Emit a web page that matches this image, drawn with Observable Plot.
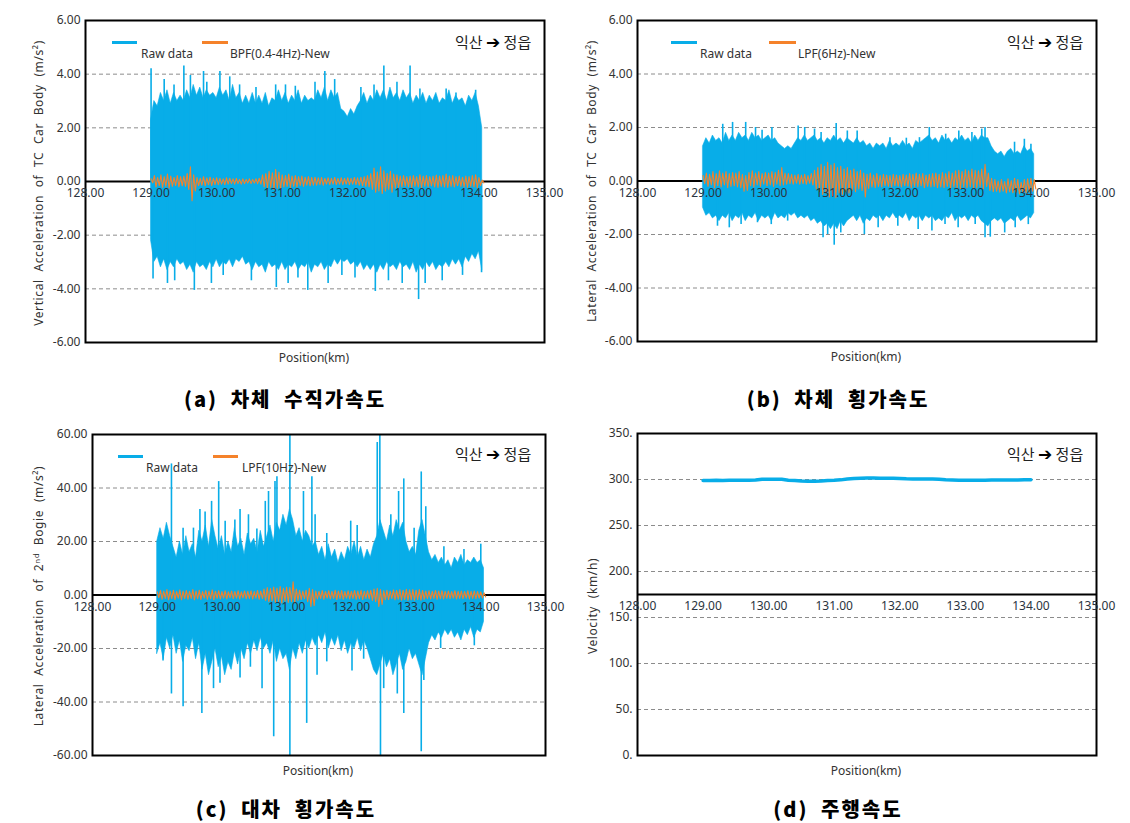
<!DOCTYPE html>
<html><head><meta charset="utf-8">
<script src="https://cdn.jsdelivr.net/npm/d3@7"></script>
<script src="https://cdn.jsdelivr.net/npm/@observablehq/plot@0.6"></script>
<style>
body{margin:0;background:#fff;}
#root{position:relative;width:1130px;height:823px;background:#fff;overflow:hidden;font-family:'Noto Sans','Noto Sans CJK KR',sans-serif;color:#333;}
.ytitle{position:absolute;white-space:nowrap;font-size:12px;transform:translate(-50%,-50%) rotate(-90deg);letter-spacing:0.6px;word-spacing:4px;color:#333}
.cap{position:absolute;white-space:nowrap;font-family:'Noto Sans CJK KR',sans-serif;font-weight:900;font-size:20px;transform:translate(-50%,-50%);color:#000;letter-spacing:2px;word-spacing:6px}
.dir{position:absolute;white-space:nowrap;font-family:'Noto Sans CJK KR',sans-serif;font-size:15px;transform:translateY(-50%);color:#222}
.dir b{font-family:'DejaVu Sans',sans-serif;font-size:17px;color:#000}
.leg{position:absolute;white-space:nowrap;font-size:12px;transform:translateY(-50%);color:#333}
.sw{position:absolute;height:3px;}
.xl{position:absolute;white-space:nowrap;font-size:12px;transform:translate(-50%,-50%);color:#333}
</style></head><body><div id="root"></div>
<script>
// ---------- shared axis data ----------
const xTicks = [128, 129, 130, 131, 132, 133, 134, 135];
const kmStart = 129.0, kmStep = 0.05; // sampling grid of the envelope arrays

// ---------- (a) vertical acceleration of car body ----------
const rawHiA = [2.3,3.0,2.8,3.3,3.0,3.4,2.9,3.3,3.0,3.2, 3.0,3.4,3.1,3.6,3.2,3.5,3.1,3.4,3.2,3.3,
  3.1,3.5,3.2,3.4,3.0,3.6,3.1,3.3,2.9,3.2, 2.9,3.3,2.9,3.2,2.9,3.3,2.8,3.1,3.0,3.4,
  3.0,3.3,2.9,3.2,3.0,3.4,2.9,3.2,3.0,3.1, 3.0,3.4,3.1,3.5,3.0,3.4,3.1,3.3,2.7,2.6,
  2.4,2.7,2.5,2.8,3.0,3.3,2.9,3.2,3.0,3.4, 3.1,3.4,3.0,3.5,3.1,3.3,3.0,3.4,3.1,3.3,
  2.9,3.2,3.0,3.3,2.9,3.2,3.0,3.3,2.9,3.1, 3.0,3.4,2.9,3.2,3.0,3.1,2.8,3.2,3.0,3.3, 2.8,2.0];
const rawLoA = [-2.2,-3.0,-2.8,-3.2,-2.9,-3.3,-3.0,-3.2,-2.9,-3.1, -3.0,-3.3,-3.1,-3.4,-3.0,-3.2,-3.1,-3.3,-3.0,-3.2,
  -2.9,-3.2,-3.0,-3.1,-2.9,-3.2,-2.9,-3.0,-2.8,-3.1, -3.0,-3.3,-3.0,-3.2,-3.1,-3.4,-3.0,-3.2,-3.1,-3.3,
  -3.0,-3.3,-3.1,-3.2,-3.0,-3.3,-3.1,-3.2,-3.0,-3.4, -3.1,-3.2,-3.0,-3.3,-3.1,-3.2,-2.9,-3.1,-2.9,-3.0,
  -2.9,-3.1,-3.0,-3.2,-3.0,-3.3,-3.1,-3.3,-3.1,-3.4, -3.1,-3.3,-3.0,-3.2,-3.1,-3.3,-3.0,-3.2,-3.1,-3.3,
  -3.0,-3.4,-3.1,-3.3,-3.0,-3.2,-3.0,-3.3,-3.1,-3.2, -3.0,-3.2,-2.9,-3.1,-2.9,-3.2,-2.8,-3.0,-2.7,-2.9, -2.6,-3.3];
const spikeKmA = [129.00,129.20,129.35,129.50,129.60,129.80,129.85,130.05,130.20,130.35,130.60,130.90,131.05,131.20,131.50,131.65,131.80,132.20,132.40,132.55,132.75,132.95,133.10,133.50,133.65,133.95,
  129.03,129.25,129.36,129.66,129.92,130.10,130.53,130.91,131.09,131.24,131.39,131.70,131.91,132.11,132.42,132.62,132.83,133.08,133.18,133.44,133.75,134.04];
const spikeValA = [4.2,3.8,3.6,4.3,3.95,4.1,3.7,4.1,3.9,3.6,3.5,3.6,3.6,3.55,3.7,4.1,3.8,3.5,3.6,4.3,3.7,4.3,3.45,3.45,3.3,3.4,
  -3.63,-3.8,-3.7,-4.06,-3.8,-3.5,-3.7,-3.95,-3.8,-3.6,-4.06,-3.8,-3.5,-3.6,-4.1,-3.7,-3.8,-4.4,-3.8,-3.7,-3.5,-3.4];
const bpfHiA = [0.10,0.22,0.15,0.25,0.18,0.28,0.20,0.15,0.22,0.18, 0.20,0.30,0.55,0.25,0.15,0.12,0.18,0.14,0.16,0.12,
  0.14,0.12,0.10,0.14,0.12,0.10,0.12,0.08,0.10,0.08, 0.10,0.08,0.10,0.12,0.25,0.30,0.38,0.32,0.45,0.35,
  0.25,0.22,0.28,0.20,0.22,0.18,0.20,0.16,0.18,0.15, 0.16,0.14,0.15,0.12,0.14,0.12,0.15,0.12,0.14,0.12,
  0.14,0.12,0.15,0.14,0.16,0.18,0.22,0.30,0.50,0.35, 0.55,0.40,0.30,0.38,0.28,0.25,0.20,0.22,0.18,0.20,
  0.22,0.18,0.25,0.20,0.22,0.18,0.20,0.24,0.20,0.22, 0.28,0.20,0.22,0.18,0.20,0.16,0.20,0.18,0.22,0.25, 0.15,0.05];
const bpfLoA = [-0.05,-0.20,-0.15,-0.22,-0.18,-0.25,-0.18,-0.15,-0.20,-0.16, -0.18,-0.30,-0.72,-0.35,-0.15,-0.14,-0.16,-0.12,-0.15,-0.12,
  -0.12,-0.10,-0.12,-0.10,-0.08,-0.10,-0.08,-0.10,-0.08,-0.06, -0.08,-0.06,-0.08,-0.10,-0.20,-0.25,-0.22,-0.30,-0.25,-0.28,
  -0.20,-0.18,-0.22,-0.18,-0.20,-0.15,-0.18,-0.14,-0.16,-0.14, -0.14,-0.12,-0.14,-0.10,-0.12,-0.10,-0.12,-0.10,-0.12,-0.10,
  -0.12,-0.10,-0.12,-0.14,-0.16,-0.18,-0.20,-0.30,-0.40,-0.35, -0.45,-0.35,-0.30,-0.40,-0.25,-0.22,-0.20,-0.18,-0.20,-0.22,
  -0.18,-0.20,-0.22,-0.18,-0.20,-0.16,-0.20,-0.22,-0.18,-0.20, -0.22,-0.18,-0.20,-0.16,-0.18,-0.20,-0.22,-0.18,-0.20,-0.24, -0.15,-0.05];

// ---------- (b) lateral acceleration of car body ----------
const rawHiB = [1.3,1.6,1.4,1.7,1.5,1.6,1.4,1.8,1.5,1.7, 1.5,1.8,1.6,1.7,1.5,1.8,1.6,1.7,1.5,1.6,
  1.7,1.5,1.6,1.4,1.3,1.2,1.3,1.2,1.4,1.6, 1.5,1.7,1.5,1.6,1.7,1.5,1.6,1.4,1.6,1.5,
  1.7,1.5,1.6,1.4,1.6,1.5,1.4,1.6,1.4,1.5, 1.3,1.4,1.2,1.4,1.3,1.4,1.2,1.5,1.3,1.4,
  1.3,1.5,1.3,1.4,1.2,1.5,1.4,1.5,1.6,1.7, 1.5,1.6,1.4,1.7,1.5,1.6,1.4,1.6,1.5,1.7,
  1.5,1.6,1.4,1.7,1.5,1.7,1.6,1.6,1.3,1.1, 1.0,1.1,0.9,1.1,1.2,1.0,1.1,1.0,1.3,1.1, 1.2,1.0];
const rawLoB = [-1.0,-1.3,-1.2,-1.4,-1.3,-1.5,-1.3,-1.4,-1.2,-1.5, -1.3,-1.4,-1.2,-1.5,-1.3,-1.4,-1.2,-1.5,-1.3,-1.4,
  -1.3,-1.5,-1.2,-1.4,-1.3,-1.4,-1.2,-1.3,-1.2,-1.4, -1.3,-1.4,-1.3,-1.5,-1.4,-1.6,-1.5,-1.7,-1.6,-1.8,
  -1.6,-1.8,-1.5,-1.7,-1.5,-1.4,-1.3,-1.5,-1.3,-1.6, -1.4,-1.5,-1.3,-1.4,-1.3,-1.5,-1.3,-1.4,-1.2,-1.4,
  -1.3,-1.4,-1.2,-1.5,-1.3,-1.4,-1.3,-1.5,-1.3,-1.4, -1.3,-1.5,-1.4,-1.5,-1.3,-1.4,-1.2,-1.5,-1.3,-1.4,
  -1.3,-1.5,-1.3,-1.4,-1.3,-1.5,-1.6,-1.7,-1.5,-1.4, -1.5,-1.4,-1.6,-1.5,-1.4,-1.5,-1.3,-1.5,-1.4,-1.3, -1.4,-1.2];
const spikeKmB = [129.30,129.45,129.65,129.80,129.90,130.05,130.45,130.55,130.70,130.80,131.03,131.20,131.35,131.85,132.10,132.30,132.45,132.70,132.90,133.10,133.25,133.30,133.75,133.90,134.00,
  129.22,129.40,129.58,129.83,130.04,130.29,130.83,130.90,131.00,131.10,131.46,131.67,131.97,132.28,132.49,132.69,132.89,133.15,133.30,133.38,133.60,133.76,133.96];
const spikeValB = [2.12,2.19,2.19,2.0,1.9,2.0,2.06,2.0,1.94,1.81,2.15,1.87,1.87,1.62,1.6,1.62,2.0,1.75,1.87,1.81,1.94,2.0,1.45,1.56,1.37,
  -1.69,-1.75,-1.63,-1.56,-1.63,-1.5,-2.12,-2.0,-2.4,-1.94,-2.0,-1.75,-1.69,-1.81,-1.87,-1.63,-1.75,-1.63,-2.12,-2.1,-1.94,-1.75,-1.63];
const lpfHiB = [0.20,0.30,0.25,0.35,0.28,0.38,0.30,0.35,0.28,0.32, 0.30,0.35,0.25,0.20,0.32,0.38,0.30,0.35,0.28,0.32,
  0.30,0.35,0.32,0.40,0.50,0.30,0.28,0.25,0.22,0.25, 0.22,0.25,0.20,0.28,0.40,0.50,0.62,0.55,0.70,0.60,
  0.65,0.50,0.55,0.45,0.50,0.40,0.45,0.35,0.40,0.30, 0.25,0.30,0.22,0.28,0.20,0.25,0.22,0.20,0.25,0.22,
  0.20,0.25,0.22,0.28,0.25,0.30,0.25,0.28,0.22,0.25, 0.28,0.30,0.25,0.32,0.28,0.35,0.30,0.38,0.40,0.35,
  0.42,0.38,0.45,0.40,0.38,0.45,0.62,0.30,0.10,0.05, 0.00,0.05,-0.02,0.08,0.02,0.10,0.05,-0.05,0.05,0.08, 0.10,0.05];
const lpfLoB = [-0.10,-0.20,-0.15,-0.25,-0.18,-0.22,-0.15,-0.25,-0.20,-0.18, -0.22,-0.25,-0.38,-0.35,-0.18,-0.22,-0.15,-0.20,-0.12,-0.18,
  -0.15,-0.20,-0.12,-0.18,-0.15,-0.12,-0.10,-0.12,-0.08,-0.12, -0.10,-0.12,-0.08,-0.15,-0.30,-0.40,-0.50,-0.45,-0.60,-0.55,
  -0.62,-0.45,-0.50,-0.40,-0.45,-0.35,-0.40,-0.30,-0.35,-0.60, -0.28,-0.22,-0.25,-0.20,-0.22,-0.18,-0.20,-0.22,-0.18,-0.20,
  -0.22,-0.18,-0.20,-0.25,-0.20,-0.22,-0.18,-0.25,-0.20,-0.22, -0.20,-0.25,-0.22,-0.25,-0.20,-0.28,-0.22,-0.25,-0.28,-0.22,
  -0.25,-0.22,-0.28,-0.25,-0.22,-0.30,-0.20,-0.35,-0.40,-0.38, -0.42,-0.38,-0.45,-0.40,-0.44,-0.42,-0.48,-0.40,-0.45,-0.42, -0.38,-0.30];

// ---------- (c) lateral acceleration of 2nd bogie ----------
const rawHiC = [20,25,21,27,22,18,14,20,15,22, 16,19,14,24,20,26,18,28,22,17,
  22,15,20,16,25,18,21,15,23,19, 21,16,24,18,22,26,20,27,24,30,
  26,32,28,22,25,20,24,22,18,20, 15,18,13,19,14,17,12,16,13,18,
  15,20,14,18,13,17,14,19,22,28, 24,20,26,22,28,24,27,20,16,18,
  15,24,28,22,16,13,15,12,14,11, 13,10,14,12,15,11,13,12,14,12, 13,10];
const rawLoC = [-22,-18,-24,-16,-20,-15,-22,-17,-25,-19, -21,-16,-24,-18,-28,-22,-30,-25,-20,-27,
  -23,-30,-25,-28,-21,-26,-20,-24,-18,-22, -17,-21,-16,-20,-18,-22,-17,-25,-20,-24,
  -22,-28,-20,-24,-18,-22,-17,-20,-16,-19, -15,-18,-14,-20,-16,-19,-15,-21,-17,-22,
  -18,-20,-16,-21,-17,-20,-24,-28,-30,-26, -22,-27,-24,-30,-26,-22,-28,-25,-20,-24,
  -22,-26,-30,-24,-18,-15,-17,-14,-16,-13, -15,-13,-16,-14,-17,-13,-15,-12,-16,-13, -14,-10];
const spikeKmC = [129.22,129.40,129.56,129.66,129.74,129.84,129.95,130.05,130.20,130.28,130.41,130.54,130.67,130.72,130.82,130.85,131.05,131.26,131.39,131.44,131.62,131.99,132.09,132.40,132.44,132.61,132.73,132.81,132.97,133.08,133.15,133.43,133.74,134.00,
  129.09,129.22,129.40,129.69,129.87,129.97,130.28,130.44,130.62,130.80,131.05,131.31,131.47,131.62,132.01,132.19,132.45,132.50,132.71,132.81,133.08,133.12,133.38,133.90];
const spikeValC = [49,25,25,32,31,35,42.4,27.6,28,32,30,24.7,35,38.7,42.4,44.2,60,38.7,44.2,30,23,27.6,26,57,60,30,38.7,43.4,25,46,33,18,17,19,
  -24.7,-37,-41.8,-44.3,-35,-33,-31,-27,-35,-53,-60,-48,-30,-25,-28.4,-24,-60,-35,-37,-44.3,-58.6,-32,-20,-19];
const lpfHiC = [1.2,1.8,1.4,2.0,1.5,1.8,1.3,1.9,1.5,1.7, 1.4,2.0,1.5,1.8,1.3,1.7,1.5,1.9,1.4,1.6,
  1.3,1.6,1.2,1.5,1.3,1.6,1.2,1.5,1.4,1.6, 1.3,1.7,1.5,2.2,2.8,2.4,3.0,2.6,3.2,2.5,
  3.0,2.8,4.9,2.2,1.8,1.5,1.8,2.5,2.0,1.5, 1.4,1.7,1.3,1.6,1.4,1.8,1.5,1.7,1.3,1.6,
  1.4,1.7,1.5,1.8,1.4,1.6,1.8,2.2,2.5,2.0, 1.6,1.8,1.5,1.9,1.7,2.0,1.8,2.1,1.9,2.0,
  1.8,2.0,1.7,1.5,1.6,1.4,1.7,1.5,1.6,1.4, 1.5,1.3,1.6,1.4,1.5,1.3,1.6,1.4,1.5,1.3, 1.2,0.8];
const lpfLoC = [-1.0,-1.6,-1.3,-1.8,-1.4,-1.7,-1.2,-1.8,-1.4,-1.6, -1.3,-1.8,-1.4,-1.7,-1.2,-1.6,-1.4,-1.8,-1.3,-1.5,
  -1.2,-1.5,-1.1,-1.4,-1.2,-1.5,-1.1,-1.4,-1.3,-1.5, -1.2,-1.6,-1.4,-2.0,-2.5,-2.2,-2.8,-2.4,-3.0,-2.3,
  -2.8,-2.5,-3.0,-2.0,-1.7,-1.4,-2.5,-4.3,-4.0,-1.5, -1.3,-1.6,-1.2,-1.5,-1.3,-1.7,-1.4,-1.6,-1.2,-1.5,
  -1.3,-1.6,-1.4,-1.7,-1.3,-1.5,-2.0,-2.5,-4.3,-3.5, -1.8,-1.7,-1.4,-1.8,-1.6,-1.9,-1.7,-2.0,-1.8,-1.9,
  -1.7,-1.9,-1.6,-1.4,-1.5,-1.3,-1.6,-1.4,-1.5,-1.3, -1.4,-1.2,-1.5,-1.3,-1.4,-1.2,-1.5,-1.3,-1.4,-1.2, -1.1,-0.7];

// ---------- (d) running speed, every 0.1 km from 129.0 to 134.0 ----------
const velStep = 0.1;
const velocity = [299.0,299.0,299.1,299.0,299.1,299.2,299.2,299.3,299.4,
  300.2,300.4,300.3,300.2, 299.3,299.0, 298.3,298.0,298.1,298.4, 299.0,299.2,299.6,
  300.6,301.2,301.4,301.5,301.5,301.4,301.4,301.3,301.0,
  300.7,300.6,300.6,300.5,300.5,300.2,
  299.6,299.4,299.3,299.3,299.3,299.3,299.3,299.4,299.4,299.4,299.5,299.5,299.6,299.8];

// ---------- ticks ----------
const yTicksAB = [-6, -4, -2, 0, 2, 4, 6];
const yGridAB = [-4, -2, 2, 4];
const yTicksC = [-60, -40, -20, 0, 20, 40, 60];
const yGridC = [-40, -20, 20, 40];
const yTicksD = [0, 50, 100, 150, 200, 250, 300, 350];
const yGridD = [50, 100, 150, 200, 250, 300];

const BLUE = "#08ade8", ORANGE = "#f5822a";

function env(hi, lo) { return hi.map((h, i) => ({km: kmStart + i * kmStep, hi: h, lo: lo[i]})); }
function zig(hi, lo) {
  const out = [];
  hi.forEach((h, i) => { out.push({km: kmStart + i * kmStep, v: h}); out.push({km: kmStart + (i + 0.5) * kmStep, v: lo[i]}); });
  return out;
}
function spikes(kms, vals) { return kms.map((k, i) => ({km: k, v: vals[i]})); }

function rawMarks(hi, lo, sk, sv, fh, fl) {
  return [
    Plot.areaY(env(hi, lo), {x: "km", y1: "lo", y2: "hi", fill: BLUE, stroke: BLUE, strokeWidth: 0.6, curve: "linear"}),
    Plot.ruleX(spikes(sk, sv), {x: "km", y1: 0, y2: "v", stroke: BLUE, strokeWidth: 1.6}),
    Plot.line(zig(fh, fl), {x: "km", y: "v", stroke: ORANGE, strokeWidth: 1.1, curve: "linear"})
  ];
}

function panel(cfg) {
  const svg = Plot.plot({
    width: cfg.w, height: cfg.h,
    marginLeft: cfg.ml, marginRight: cfg.mr, marginTop: cfg.mt, marginBottom: cfg.mb,
    x: {domain: [128, 135], axis: null},
    y: {domain: cfg.yDomain},
    style: {fontFamily: "'Noto Sans', 'Noto Sans CJK KR', sans-serif", fontSize: "12px", color: "#333", background: "transparent", overflow: "visible"},
    marks: [
      Plot.ruleY(cfg.grid, {stroke: "#8c8c8c", strokeDasharray: "4,3", strokeWidth: 1}),
      Plot.ruleY([cfg.axisAt], {stroke: "#000", strokeWidth: 2}),
      ...cfg.data,
      Plot.frame({stroke: "#000", strokeWidth: 2}),
      Plot.axisY(cfg.yTicks, {tickSize: 0, tickPadding: 5, tickFormat: cfg.yFmt, label: null, fill: "#333"}),
      Plot.text(xTicks, {x: d => d, y: cfg.axisAt, dy: 12, text: d => d.toFixed(2), fill: "#2a3440", fontSize: 12})
    ]
  });
  svg.style.position = "absolute";
  svg.style.left = cfg.left + "px";
  svg.style.top = cfg.top + "px";
  return svg;
}

const root = document.getElementById("root");
const f2 = d => d.toFixed(2);

root.appendChild(panel({left: 0, top: 0, w: 560, h: 375, ml: 85, mr: 16, mt: 20, mb: 33,
  yDomain: [-6, 6], yTicks: yTicksAB, yFmt: f2, grid: yGridAB, axisAt: 0,
  data: rawMarks(rawHiA, rawLoA, spikeKmA, spikeValA, bpfHiA, bpfLoA)}));
root.appendChild(panel({left: 560, top: 0, w: 570, h: 375, ml: 77, mr: 34, mt: 20, mb: 34,
  yDomain: [-6, 6], yTicks: yTicksAB, yFmt: f2, grid: yGridAB, axisAt: 0,
  data: rawMarks(rawHiB, rawLoB, spikeKmB, spikeValB, lpfHiB, lpfLoB)}));
root.appendChild(panel({left: 0, top: 410, w: 560, h: 375, ml: 92, mr: 15, mt: 24, mb: 30,
  yDomain: [-60, 60], yTicks: yTicksC, yFmt: f2, grid: yGridC, axisAt: 0,
  data: rawMarks(rawHiC, rawLoC, spikeKmC, spikeValC, lpfHiC, lpfLoC)}));
root.appendChild(panel({left: 560, top: 410, w: 570, h: 375, ml: 77, mr: 34, mt: 23, mb: 30,
  yDomain: [0, 350], yTicks: yTicksD, yFmt: d => d + ".", grid: yGridD, axisAt: 175,
  data: [Plot.line(velocity.map((v, i) => ({km: kmStart + i * velStep, v})), {x: "km", y: "v", stroke: BLUE, strokeWidth: 3.5})]}));

// ---------- texts ----------
function add(cls, html, x, y, extra) {
  const d = document.createElement("div");
  d.className = cls; d.innerHTML = html;
  d.style.left = x + "px"; d.style.top = y + "px";
  if (extra) Object.assign(d.style, extra);
  root.appendChild(d);
  return d;
}
function swatch(x1, x2, y, color) {
  const d = document.createElement("div");
  d.className = "sw";
  Object.assign(d.style, {left: x1 + "px", top: (y - 1.5) + "px", width: (x2 - x1) + "px", background: color});
  root.appendChild(d);
}
const dirText = "익산 <b>➔</b> 정읍";

// (a)
add("ytitle", "Vertical Acceleration of TC Car Body (m/s²)", 38, 183);
swatch(112, 137, 42, BLUE); add("leg", "Raw data", 141, 53);
swatch(202, 228, 42, ORANGE); add("leg", "BPF(0.4-4Hz)-New", 230, 53);
add("dir", dirText, 455, 41);
add("xl", "Position(km)", 314, 357);
add("cap", "(a) 차체 수직가속도", 285, 398);
// (b)
add("ytitle", "Lateral Acceleration of TC Car Body (m/s²)", 591, 181);
swatch(671, 697, 42, BLUE); add("leg", "Raw data", 700, 53);
swatch(769, 796, 42, ORANGE); add("leg", "LPF(6Hz)-New", 798, 53);
add("dir", dirText, 1007, 41);
add("xl", "Position(km)", 866, 356);
add("cap", "(b) 차체 횡가속도", 838, 398);
// (c)
add("ytitle", "Lateral Acceleration of 2ⁿᵈ Bogie (m/s²)", 38, 596);
swatch(118, 143, 456, BLUE); add("leg", "Raw data", 146, 467);
swatch(213, 238, 456, ORANGE); add("leg", "LPF(10Hz)-New", 242, 467);
add("dir", dirText, 455, 453);
add("xl", "Position(km)", 318, 770);
add("cap", "(c) 대차 횡가속도", 286, 808);
// (d)
add("ytitle", "Velocity (km/h)", 592, 606);
add("dir", dirText, 1007, 453);
add("xl", "Position(km)", 866, 770);
add("cap", "(d) 주행속도", 838, 808);
</script></body></html>
